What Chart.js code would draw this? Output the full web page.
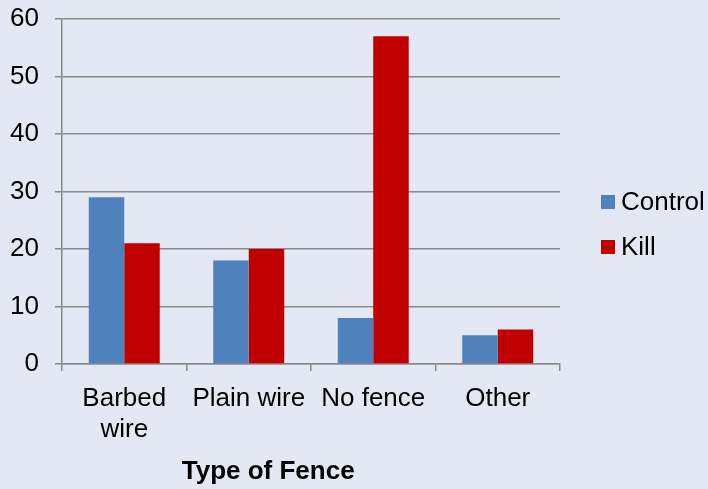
<!DOCTYPE html>
<html>
<head>
<meta charset="utf-8">
<script src="https://cdn.jsdelivr.net/npm/chart.js@4.4.1/dist/chart.umd.min.js"></script>
<style>
  html, body { margin: 0; padding: 0; background: #E4E8F4; }
  #wrap { width: 708px; height: 489px; position: relative; font-family: 'Liberation Sans', Arial, sans-serif; }
  #legend { position: absolute; left: 601px; top: 179px; margin: 0; padding: 0; list-style: none; }
  #legend li { height: 45px; display: flex; align-items: center; font-size: 26px; color: #000; white-space: nowrap; }
  #legend li span.sw { width: 14px; height: 14px; margin-right: 6px; flex: none; }
</style>
</head>
<body>
<div id="wrap">
  <canvas id="c" width="708" height="489"></canvas>
  <ul id="legend"></ul>
</div>
<script>
// Fence types and observations per treatment
const categories = [["Barbed", "wire"], "Plain wire", "No fence", "Other"];
const controlValues = [29, 18, 8, 5];
const killValues = [21, 20, 57, 6];
const yTicks = [0, 10, 20, 30, 40, 50, 60];
const axisTitle = "Type of Fence";

const FONT = "'Liberation Sans', Arial, sans-serif";
const GRID = "#8A8A8A";

// Axis title drawn beneath the category labels
const axisTitlePlugin = {
  id: "axisTitle",
  afterDraw(chart) {
    const { ctx, chartArea } = chart;
    ctx.save();
    ctx.font = "bold 26px " + FONT;
    ctx.fillStyle = "#000";
    ctx.textAlign = "center";
    ctx.textBaseline = "alphabetic";
    ctx.fillText(axisTitle, chartArea.left + chartArea.width * 0.414, chart.height - 10);
    ctx.restore();
  }
};

const chart = new Chart(document.getElementById("c"), {
  type: "bar",
  data: {
    labels: categories,
    datasets: [
      { label: "Control", data: controlValues, backgroundColor: "#4F81BD" },
      { label: "Kill", data: killValues, backgroundColor: "#C00000" }
    ]
  },
  options: {
    responsive: false,
    animation: false,
    layout: { padding: { left: 10, top: 19, right: 148, bottom: 45 } },
    datasets: { bar: { barPercentage: 1.0, categoryPercentage: 0.57 } },
    plugins: {
      legend: { display: false },
      tooltip: { enabled: false }
    },
    scales: {
      x: {
        grid: { drawOnChartArea: false, drawTicks: true, offset: true, tickLength: 7, color: GRID, lineWidth: 1.5 },
        border: { color: GRID, width: 1.5 },
        ticks: { font: { family: FONT, size: 26 }, color: "#000", padding: 12, maxRotation: 0, autoSkip: false },
        afterFit(scale) {
          scale.height = 80;
          scale.paddingLeft = 0;
          scale.paddingRight = 0;
        }
      },
      y: {
        min: 0,
        max: 60,
        afterBuildTicks(axis) { axis.ticks = yTicks.map(v => ({ value: v })); },
        grid: { color: GRID, lineWidth: 1.5, tickLength: 7 },
        border: { color: GRID, width: 1.5 },
        ticks: { font: { family: FONT, size: 26 }, color: "#000", padding: 16 },
        afterFit(scale) {
          scale.width = 52;
          scale.paddingTop = 0;
          scale.paddingBottom = 0;
        }
      }
    }
  },
  plugins: [axisTitlePlugin]
});

// Legend built from the chart's datasets
const legend = document.getElementById("legend");
chart.data.datasets.forEach(ds => {
  const li = document.createElement("li");
  const sw = document.createElement("span");
  sw.className = "sw";
  sw.style.background = ds.backgroundColor;
  li.appendChild(sw);
  li.appendChild(document.createTextNode(ds.label));
  legend.appendChild(li);
});
</script>
</body>
</html>
